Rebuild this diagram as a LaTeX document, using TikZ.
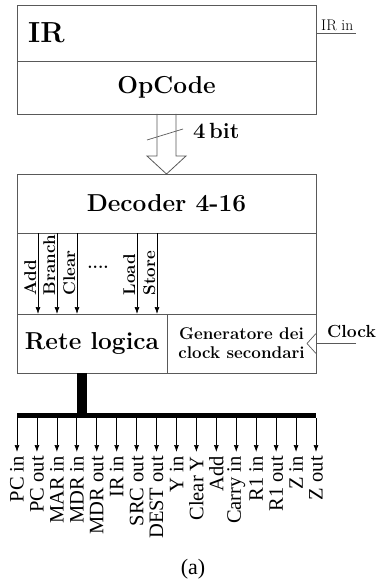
\documentclass[tikz,border=0pt]{standalone}
\usepackage{fontspec}
\newfontfamily\timesfont{Liberation Serif}
\usetikzlibrary{positioning,arrows.meta,calc}

\begin{document}
\begin{tikzpicture}[
  x=1pt, y=-1pt,
  >={Latex[length=7pt,width=5pt]},
  blk/.style={draw=black!65, line width=0.8pt, minimum width=299pt, inner sep=0pt,
              outer sep=0pt, font=\bfseries\fontsize{24.5}{28}\selectfont},
  half/.style={blk, minimum width=150pt, minimum height=59pt},
  sig/.style={->, line width=0.7pt},
  siglbl/.style={rotate=90, anchor=south west, inner sep=1.5pt,
                 font=\bfseries\fontsize{17}{19}\selectfont},
  outlbl/.style={rotate=90, anchor=east, inner sep=1pt,
                 font=\timesfont\fontsize{20.5}{22}\selectfont},
  hollow/.style={draw=black!65, line width=0.8pt},
]
\useasboundingbox (0,0) rectangle (377,583);

% registro IR
\node[blk, minimum height=56pt, anchor=north west] (ir) at (17,5) {};
\node[anchor=west, inner sep=0pt, font=\bfseries\fontsize{29}{32}\selectfont] (irname)
  at ([xshift=11pt]ir.west) {IR};
\node[blk, minimum height=53pt, below=0pt of ir] (opc) {OpCode};
\draw[black!65, line width=0.7pt] (ir.east) -- ++(40,0) coordinate (irin);
\node[anchor=base west, inner sep=0pt, font=\fontsize{15.5}{17}\selectfont] (irinlbl)
  at (321,30.5) {IR in};

% decoder e rete
\node[blk, minimum height=59pt, below=60pt of opc] (dec) {Decoder 4-16};
\node[blk, minimum height=81pt, below=0pt of dec] (sigs) {};
\node[half, anchor=north west] (rete) at (sigs.south west) {Rete logica};
\node[half, minimum width=149pt, anchor=north east, align=center,
      font=\bfseries\fontsize{17}{19}\selectfont] (gen) at (sigs.south east)
  {Generatore dei\\clock secondari};

% freccia a 4 bit
\draw[hollow] ([xshift=-9.5pt]opc.south) -- ++(0,42) -- ++(-10,0) -- (dec.north)
  -- ++(19.5,-18) -- ++(-10,0) -- ([xshift=9.5pt]opc.south);
\draw[black!65, line width=0.7pt] ($(opc.south)+(-19.5,26)$) -- ($(opc.south)+(16.5,15)$);
\node[anchor=base west, inner sep=0pt, font=\bfseries\fontsize{22}{26}\selectfont] (nbit)
  at (193,138) {4\,bit};

% uscite del decoder
\foreach \dx/\lbl [count=\i] in {21/Add, 40/Branch, 60/Clear, 120/Load, 140/Store} {
  \coordinate (s\i) at ($(sigs.north west)+(\dx,0)$);
  \draw[sig] (s\i) -- (s\i |- sigs.south);
  \node[siglbl] (l\i) at ($(s\i |- sigs.south)+(0,-17)$) {\lbl};
}
\node[anchor=base, inner sep=0pt, font=\bfseries\fontsize{17}{19}\selectfont] (dots)
  at (98,268) {....};

% clock
\coordinate (clk) at ([xshift=40pt]gen.east);
\draw[black!65, line width=0.7pt] (clk) -- (gen.east);
\draw[black!65, line width=0.7pt] ([yshift=10pt]gen.east) -- ([xshift=-9pt]gen.east)
  -- ([yshift=-10pt]gen.east);
\node[anchor=base west, inner sep=0pt, font=\bfseries\fontsize{17.5}{19}\selectfont] (clklbl)
  at ([xshift=11pt,yshift=6.5pt]gen.east) {Clock};

% bus dei segnali di controllo
\coordinate (busT) at ([xshift=-10pt]rete.south);
\coordinate (busB) at (busT |- 0,415.5);
\coordinate (busL) at (17,415.5);
\coordinate (busR) at (316,415.5);
\draw[line width=10pt] (busT) -- (busB);
\draw[line width=5pt] (busL) -- (busR);
\foreach \lbl [count=\i from 0] in {PC in, PC out, MAR in, MDR in, MDR out, IR in,
    SRC out, DEST out, Y in, Clear Y, Add, Carry in, R1 in, R1 out, Z in, Z out} {
  \coordinate (o\i) at ($(busL)+(\i*19.933,2.5)$);
  \draw[sig] (o\i) -- ++(0,34);
  \node[outlbl] (ol\i) at ($(o\i)+(0,37)$) {\lbl};
}

\node[font=\timesfont\fontsize{22}{24}\selectfont, inner sep=0pt] (cap) at (193,569) {(a)};
\end{tikzpicture}
\end{document}
